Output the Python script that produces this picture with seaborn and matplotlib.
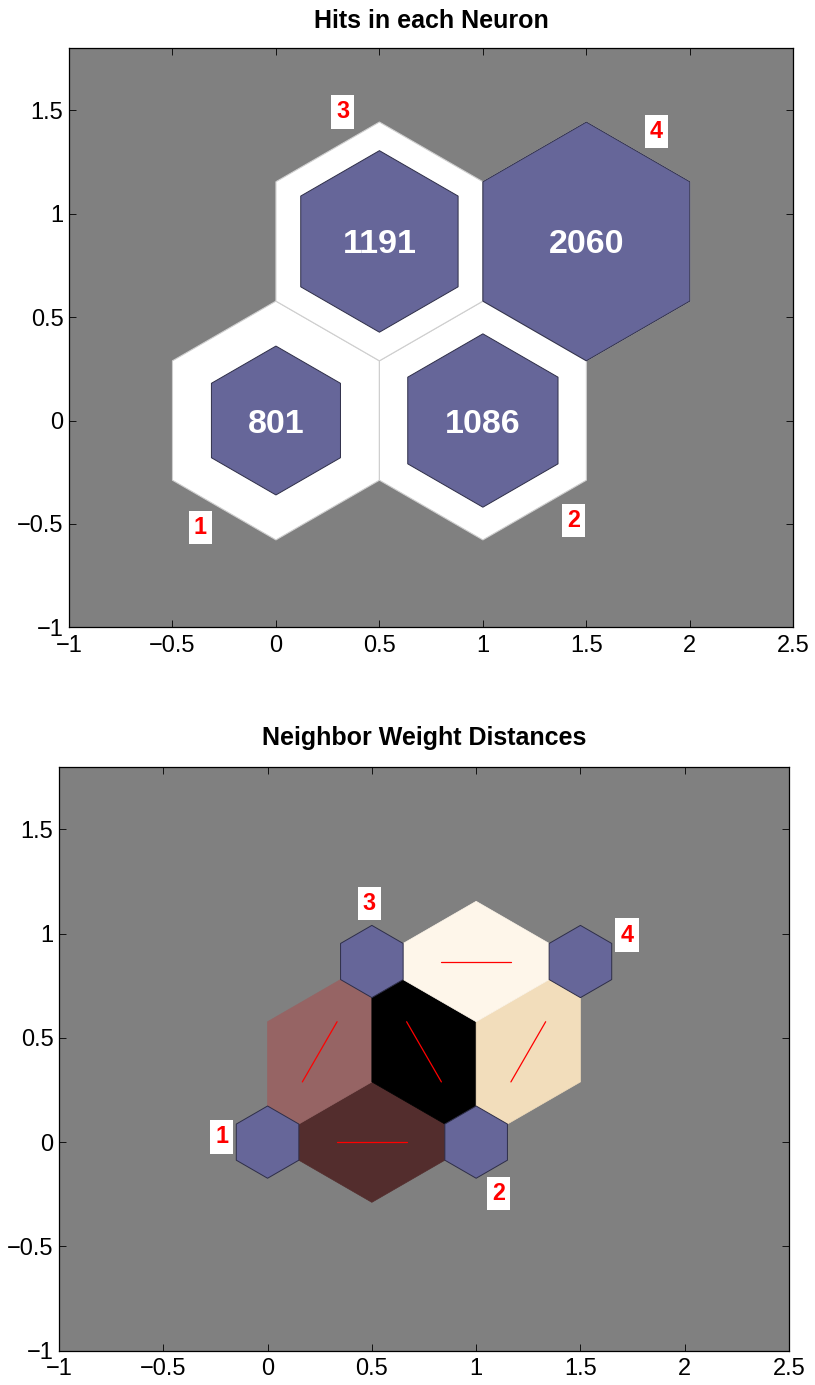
import numpy as np
import pandas as pd
import matplotlib
matplotlib.use("Agg")
import matplotlib.pyplot as plt
import seaborn as sns
from matplotlib.patches import Polygon

# ---------------- data ----------------
neuron_ids = ["1", "2", "3", "4"]
neuron_x = [0.0, 1.0, 0.5, 1.5]
neuron_y = [0.0, 0.0, 0.8660, 0.8660]
hits = [801, 1086, 1191, 2060]

# neuron number label positions
hits_label_x = [-0.365, 1.439, 0.322, 1.839]
hits_label_y = [-0.516, -0.484, 1.492, 1.397]
nd_label_x = [-0.22, 1.108, 0.488, 1.723]
nd_label_y = [0.025, -0.248, 1.143, 0.993]

# neighbour connections and their distance shading
edge_from = [0, 0, 1, 1, 2]
edge_to = [1, 2, 2, 3, 3]
edge_colors = ["#532d2d", "#966464", "#000000", "#f2ddbb", "#fef6ea"]

xticks = [-1, -0.5, 0, 0.5, 1, 1.5, 2, 2.5]
xtick_labels = ["\u22121", "\u22120.5", "0", "0.5", "1", "1.5", "2", "2.5"]
yticks = [-1, -0.5, 0, 0.5, 1, 1.5]
ytick_labels = ["\u22121", "\u22120.5", "0", "0.5", "1", "1.5"]

titles = ["Hits in each Neuron", "Neighbor Weight Distances"]

# ---------------- style ----------------
sns.set_style("ticks")
plt.rcParams["font.family"] = ["Liberation Sans", "DejaVu Sans"]
plt.rcParams["axes.unicode_minus"] = True
plt.rcParams["text.color"] = "black"
plt.rcParams["axes.labelcolor"] = "black"
plt.rcParams["xtick.color"] = "black"
plt.rcParams["ytick.color"] = "black"
plt.rcParams["xtick.labelcolor"] = "black"
plt.rcParams["ytick.labelcolor"] = "black"

NEURON_FACE = "#666699"
NEURON_EDGE = "#2e2e48"
R_FULL = 1.0 / np.sqrt(3.0)


def hex_verts(cx, cy, scale):
    ang = np.deg2rad(90 + 60 * np.arange(6))
    r = R_FULL * scale
    return np.column_stack([cx + r * np.cos(ang), cy + r * np.sin(ang)])


def style_axes(ax, title, pad):
    ax.set_facecolor("#808080")
    ax.set_xlim(-1, 2.5)
    ax.set_ylim(-1, 1.8)
    ax.set_xticks(xticks)
    ax.set_xticklabels(xtick_labels)
    ax.set_yticks(yticks)
    ax.set_yticklabels(ytick_labels)
    ax.tick_params(axis="both", direction="in", length=5, width=0.6,
                   color="black", labelcolor="black", labelsize=17,
                   top=True, right=True)
    ax.tick_params(axis="x", pad=5.4)
    ax.tick_params(axis="y", pad=4)
    for s in ax.spines.values():
        s.set_visible(True)
        s.set_linewidth(0.9)
        s.set_color("black")
    ax.set_xlabel("")
    ax.set_ylabel("")
    ax.set_title(title, fontsize=18, fontweight="bold", pad=pad,
                 color="black")


def neuron_label(ax, x, y, s):
    ax.text(x, y, s, color="red", fontsize=16.8, fontweight="bold",
            ha="center", va="center", zorder=6,
            bbox=dict(boxstyle="square,pad=0.22", facecolor="white",
                      edgecolor="none"))


fig = plt.figure(figsize=(8.15, 13.85), dpi=100)

# ---------------- top: hits ----------------
ax1 = fig.add_axes([69 / 815, (1385 - 627.3) / 1385, 724.3 / 815, 579 / 1385])
max_hits = max(hits)
for i in range(len(neuron_ids)):
    ax1.add_patch(Polygon(hex_verts(neuron_x[i], neuron_y[i], 1.0),
                          closed=True, facecolor="white",
                          edgecolor="#cfcfcf", linewidth=0.8, zorder=1))
for i in range(len(neuron_ids)):
    sc = np.sqrt(hits[i] / max_hits)
    ax1.add_patch(Polygon(hex_verts(neuron_x[i], neuron_y[i], sc),
                          closed=True, facecolor=NEURON_FACE,
                          edgecolor=NEURON_EDGE, linewidth=0.7, zorder=2))
    ax1.text(neuron_x[i], neuron_y[i], str(hits[i]), color="white",
             fontsize=24.5, fontweight="bold", ha="center",
             va="center_baseline", zorder=3)
for i in range(len(neuron_ids)):
    neuron_label(ax1, hits_label_x[i], hits_label_y[i], neuron_ids[i])
style_axes(ax1, titles[0], 14.4)

# ---------------- bottom: neighbour distances ----------------
ax2 = fig.add_axes([59 / 815, (1385 - 1350.7) / 1385, 730 / 815, 584 / 1385])
rows = []
for k, (a, b) in enumerate(zip(edge_from, edge_to)):
    pa = np.array([neuron_x[a], neuron_y[a]])
    pb = np.array([neuron_x[b], neuron_y[b]])
    d = pb - pa
    mid = (pa + pb) / 2
    perp = np.array([-d[1], d[0]]) * (0.5 / np.sqrt(3.0))
    rh = np.array([pa, mid + perp, pb, mid - perp])
    ax2.add_patch(Polygon(rh, closed=True, facecolor=edge_colors[k],
                          edgecolor=edge_colors[k], linewidth=0.5, zorder=1))
    p1 = (2 * pa + pb) / 3
    p2 = (pa + 2 * pb) / 3
    rows.append({"edge": k, "order": 0, "x": p1[0], "y": p1[1]})
    rows.append({"edge": k, "order": 1, "x": p2[0], "y": p2[1]})
lines_df = pd.DataFrame(rows)
sns.lineplot(data=lines_df, x="x", y="y", units="edge", estimator=None,
             sort=False, color="red", linewidth=0.9, ax=ax2, zorder=2)

for i in range(len(neuron_ids)):
    ax2.add_patch(Polygon(hex_verts(neuron_x[i], neuron_y[i], 0.3),
                          closed=True, facecolor=NEURON_FACE,
                          edgecolor=NEURON_EDGE, linewidth=0.7, zorder=3))
for i in range(len(neuron_ids)):
    neuron_label(ax2, nd_label_x[i], nd_label_y[i], neuron_ids[i])
style_axes(ax2, titles[1], 15.6)

fig.savefig("out.png", dpi=100, facecolor="white")
